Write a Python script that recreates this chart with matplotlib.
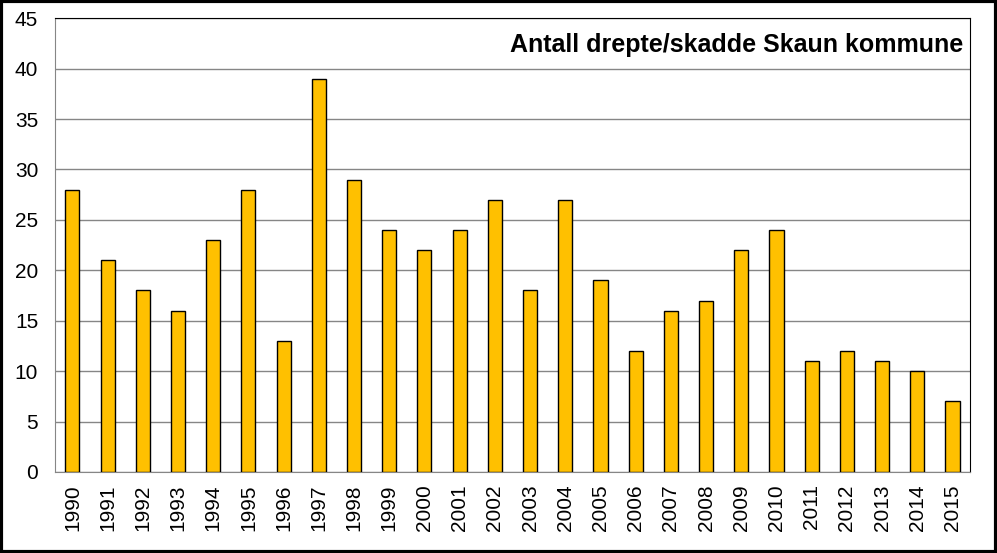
import matplotlib.pyplot as plt
from matplotlib.patches import Rectangle

years = [str(y) for y in range(1990, 2016)]
values = [28, 21, 18, 16, 23, 28, 13, 39, 29, 24, 22, 24, 27, 18, 27, 19,
          12, 16, 17, 22, 24, 11, 12, 11, 10, 7]
yticks = [0, 5, 10, 15, 20, 25, 30, 35, 40, 45]

plt.rcParams['font.family'] = ['Liberation Sans', 'DejaVu Sans']

fig = plt.figure(figsize=(9.97, 5.53), dpi=100)
ax = fig.add_axes([0.055, 0.1465, 0.918, 0.8205])

ax.bar(years, values, width=0.4, color='#FFC000', edgecolor='black', linewidth=1, zorder=3)

ax.set_ylim(0, 45)
ax.set_xlim(-0.5, len(years) - 0.5)
ax.set_yticks(yticks)
ax.yaxis.grid(True, color='#868686', linewidth=1, zorder=0)
ax.tick_params(axis='both', length=0, labelsize=15)
ax.tick_params(axis='y', pad=12)
ax.tick_params(axis='x', rotation=90, pad=9)

ax.spines['left'].set_color('#868686')
ax.spines['bottom'].set_color('#868686')
ax.spines['top'].set_color('black')
ax.spines['right'].set_color('black')

ax.text(0.993, 0.94, 'Antall drepte/skadde Skaun kommune', transform=ax.transAxes,
        ha='right', va='center', fontsize=18, fontweight='bold')

# black frame around the whole figure
fig.patches.append(Rectangle((0.0015, 0.0025), 0.997, 0.995, transform=fig.transFigure,
                             fill=False, edgecolor='black', linewidth=3))

fig.savefig('out.png', dpi=100)
